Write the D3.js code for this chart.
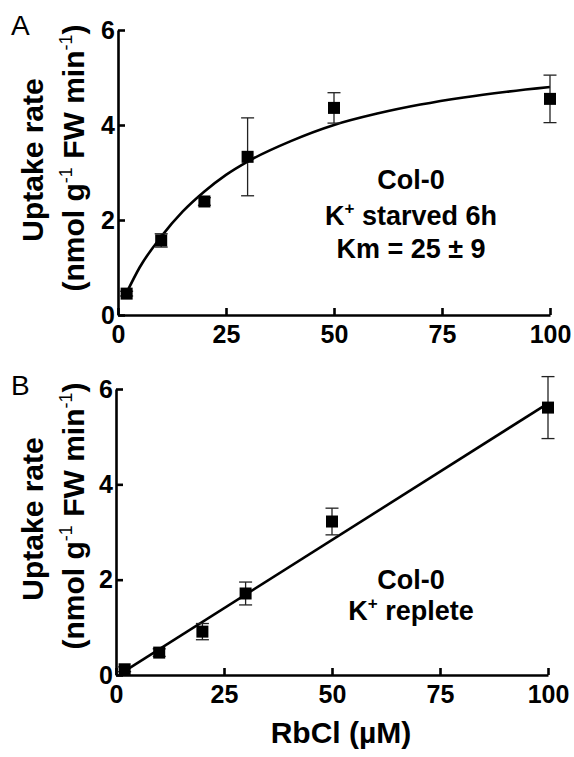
<!DOCTYPE html>
<html>
<head>
<meta charset="utf-8">
<script src="https://cdn.jsdelivr.net/npm/d3@7"></script>
<style>
  html, body { margin: 0; padding: 0; background: #fff; }
  svg { display: block; }
  text { font-family: "Liberation Sans", Arial, sans-serif; }
</style>
</head>
<body>
<svg id="chart" width="574" height="757"></svg>
<script>
// ---- Data ----
const xTicks = [0, 25, 50, 75, 100];
const yTicks = [0, 2, 4, 6];

// Panel A: K+ starved 6h
const concA = [2, 10, 20, 30, 50, 100];
const rateA = [0.45, 1.57, 2.39, 3.33, 4.36, 4.55];
const errA  = [0.05, 0.14, 0.08, 0.82, 0.32, 0.50];
const fitXA = [2, 5, 10, 15, 20, 25, 30, 40, 50, 60, 70, 80, 90, 100];
const fitYA = [0.47, 1.0, 1.65, 2.18, 2.6, 2.95, 3.23, 3.66, 4.0, 4.24, 4.43, 4.58, 4.70, 4.80];

// Panel B: K+ replete
const concB = [2, 10, 20, 30, 50, 100];
const rateB = [0.12, 0.47, 0.91, 1.71, 3.22, 5.61];
const errB  = [0.05, 0.08, 0.17, 0.24, 0.28, 0.65];
const fitXB = [2, 100];
const fitYB = [0.08, 5.70];

const svg = d3.select("#chart");
svg.append("rect").attr("width", 574).attr("height", 757).attr("fill", "#fff");

function panel(opts) {
  const x = d3.scaleLinear().domain([0, 100]).range([opts.left, opts.right]);
  const y = d3.scaleLinear().domain([0, 6]).range([opts.bottom, opts.top]);
  const g = svg.append("g");

  // axes
  const ax = g.append("g").attr("transform", `translate(0,${opts.bottom})`)
    .call(d3.axisBottom(x).tickValues(xTicks).tickFormat(d3.format("d"))
      .tickSizeInner(-7).tickSizeOuter(0).tickPadding(10));
  const ay = g.append("g").attr("transform", `translate(${opts.left},0)`)
    .call(d3.axisLeft(y).tickValues(yTicks).tickFormat(d3.format("d"))
      .tickSizeInner(-7).tickSizeOuter(0).tickPadding(3));
  [ax, ay].forEach(a => {
    a.select(".domain").attr("stroke", "#000").attr("stroke-width", 2.6);
    a.selectAll(".tick line").attr("stroke", "#000").attr("stroke-width", 2.6);
    a.selectAll(".tick text").attr("fill", "#000")
      .style("font-family", '"Liberation Sans", Arial, sans-serif')
      .style("font-size", "25px").style("font-weight", "bold");
  });

  // fit curve
  const pts = opts.fitX.map((d, i) => [d, opts.fitY[i]]);
  g.append("path")
    .attr("d", d3.line().x(d => x(d[0])).y(d => y(d[1])).curve(d3.curveMonotoneX)(pts))
    .attr("fill", "none").attr("stroke", "#000").attr("stroke-width", 2.6);

  // error bars
  const data = opts.conc.map((c, i) => ({c, v: opts.rate[i], e: opts.err[i]}));
  const eb = g.append("g").attr("stroke", "#222").attr("stroke-width", 1.3);
  data.forEach(d => {
    eb.append("line").attr("x1", x(d.c)).attr("x2", x(d.c))
      .attr("y1", y(d.v - d.e)).attr("y2", y(d.v + d.e));
    [d.v - d.e, d.v + d.e].forEach(v => {
      eb.append("line").attr("x1", x(d.c) - 6.5).attr("x2", x(d.c) + 6.5)
        .attr("y1", y(v)).attr("y2", y(v));
    });
  });

  // markers
  const s = 12;
  g.selectAll("rect.pt").data(data).enter().append("rect")
    .attr("class", "pt")
    .attr("x", d => x(d.c) - s / 2).attr("y", d => y(d.v) - s / 2)
    .attr("width", s).attr("height", s).attr("fill", "#000");

  // y title
  const tt = g.append("g").attr("font-weight", "bold").attr("font-size", 30).attr("fill", "#000");
  tt.append("text").attr("text-anchor", "middle")
    .attr("transform", `translate(43,${opts.titleY1}) rotate(-90)`)
    .text("Uptake rate");
  const t2 = tt.append("text").attr("text-anchor", "middle")
    .attr("transform", `translate(84,${opts.titleY2}) rotate(-90)`);
  t2.append("tspan").text("(nmol g");
  t2.append("tspan").attr("font-size", 18).attr("font-weight", "normal").attr("dy", -12).text("-1");
  t2.append("tspan").attr("dy", 12).text(" FW min");
  t2.append("tspan").attr("font-size", 18).attr("font-weight", "normal").attr("dy", -12).text("-1");
  t2.append("tspan").attr("dy", 12).text(")");

  // panel letter
  g.append("text").attr("x", 11).attr("y", opts.letterY)
    .attr("font-size", 28).attr("fill", "#000").text(opts.letter);

  // annotation
  const an = g.append("g").attr("font-weight", "bold").attr("font-size", 27)
    .attr("fill", "#000").attr("text-anchor", "middle");
  opts.notes.forEach(n => {
    const t = an.append("text").attr("x", 411).attr("y", n.y);
    let shift = 0;
    n.parts.forEach(p => {
      const ts = t.append("tspan").text(p.t);
      if (p.sup) {
        ts.attr("font-size", 17).attr("dy", -11);
        shift = 11;
      } else if (shift) {
        ts.attr("dy", shift);
        shift = 0;
      }
    });
  });
}

panel({
  left: 118, right: 550, top: 30, bottom: 315,
  conc: concA, rate: rateA, err: errA, fitX: fitXA, fitY: fitYA,
  titleY1: 160, titleY2: 158, letter: "A", letterY: 35,
  notes: [
    {y: 189, parts: [{t: "Col-0"}]},
    {y: 225, parts: [{t: "K"}, {t: "+", sup: true}, {t: " starved 6h"}]},
    {y: 258, parts: [{t: "Km = 25 ± 9"}]}
  ]
});

panel({
  left: 116, right: 548, top: 389, bottom: 675,
  conc: concB, rate: rateB, err: errB, fitX: fitXB, fitY: fitYB,
  titleY1: 519, titleY2: 516, letter: "B", letterY: 395,
  notes: [
    {y: 589, parts: [{t: "Col-0"}]},
    {y: 620, parts: [{t: "K"}, {t: "+", sup: true}, {t: " replete"}]}
  ]
});

// x title
svg.append("text").attr("x", 341).attr("y", 743).attr("text-anchor", "middle")
  .attr("font-weight", "bold").attr("font-size", 30).attr("fill", "#000")
  .text("RbCl (µM)");
</script>
</body>
</html>
